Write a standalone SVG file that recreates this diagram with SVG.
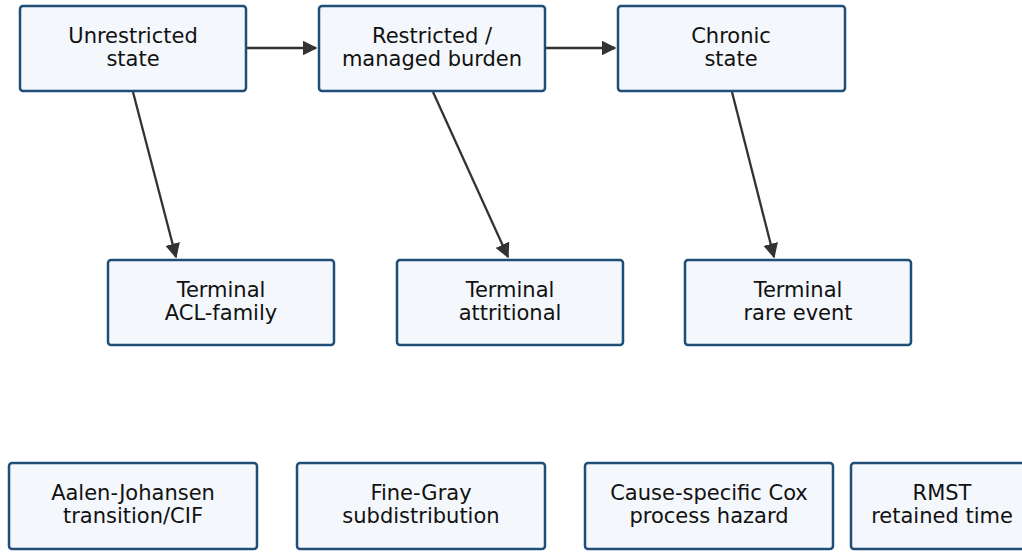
<svg xmlns="http://www.w3.org/2000/svg" width="1022" height="552" viewBox="0 0 1022 552">
<defs>
<style>
.node rect{fill:#f4f7fb;stroke:#1f4e79;stroke-width:2.5}
.node text{font-family:"DejaVu Sans",sans-serif;font-size:21px;fill:#111;text-anchor:middle}
.edge{stroke:#333;stroke-width:2.3;fill:none;marker-end:url(#ah)}
</style>
<marker id="ah" viewBox="0 0 10 10" refX="9" refY="5" markerWidth="6.5" markerHeight="6.5" orient="auto" markerUnits="strokeWidth">
<path d="M0,0 L10,5 L0,10 z" fill="#333"/>
</marker>
</defs>
<rect width="1022" height="552" fill="#fff"/>
<g id="connectors">
<line class="edge" x1="246" y1="48" x2="316" y2="48"/>
<line class="edge" x1="545" y1="48" x2="615" y2="48"/>
<line class="edge" x1="133" y1="92" x2="176" y2="257"/>
<line class="edge" x1="433" y1="92" x2="508" y2="257"/>
<line class="edge" x1="732" y1="92" x2="774" y2="257"/>
</g>
<g id="n_unrestricted" class="node"><rect x="20" y="6" width="226" height="85" rx="3"/><text x="133" y="43">Unrestricted</text><text x="133" y="66">state</text></g>
<g id="n_restricted" class="node"><rect x="319" y="6" width="226" height="85" rx="3"/><text x="432" y="43">Restricted /</text><text x="432" y="66">managed burden</text></g>
<g id="n_chronic" class="node"><rect x="618" y="6" width="227" height="85" rx="3"/><text x="731" y="43">Chronic</text><text x="731" y="66">state</text></g>
<g id="n_acl" class="node"><rect x="108" y="260" width="226" height="85" rx="3"/><text x="221" y="297">Terminal</text><text x="221" y="320">ACL-family</text></g>
<g id="n_attr" class="node"><rect x="397" y="260" width="226" height="85" rx="3"/><text x="510" y="297">Terminal</text><text x="510" y="320">attritional</text></g>
<g id="n_rare" class="node"><rect x="685" y="260" width="226" height="85" rx="3"/><text x="798" y="297">Terminal</text><text x="798" y="320">rare event</text></g>
<g id="n_aj" class="node"><rect x="9" y="463" width="248" height="86" rx="3"/><text x="133" y="500">Aalen-Johansen</text><text x="133" y="523">transition/CIF</text></g>
<g id="n_fg" class="node"><rect x="297" y="463" width="248" height="86" rx="3"/><text x="421" y="500">Fine-Gray</text><text x="421" y="523">subdistribution</text></g>
<g id="n_cox" class="node"><rect x="585" y="463" width="248" height="86" rx="3"/><text x="709" y="500">Cause-specific Cox</text><text x="709" y="523">process hazard</text></g>
<g id="n_rmst" class="node"><rect x="851" y="463" width="182" height="86" rx="3"/><text x="942" y="500">RMST</text><text x="942" y="523">retained time</text></g>
</svg>
